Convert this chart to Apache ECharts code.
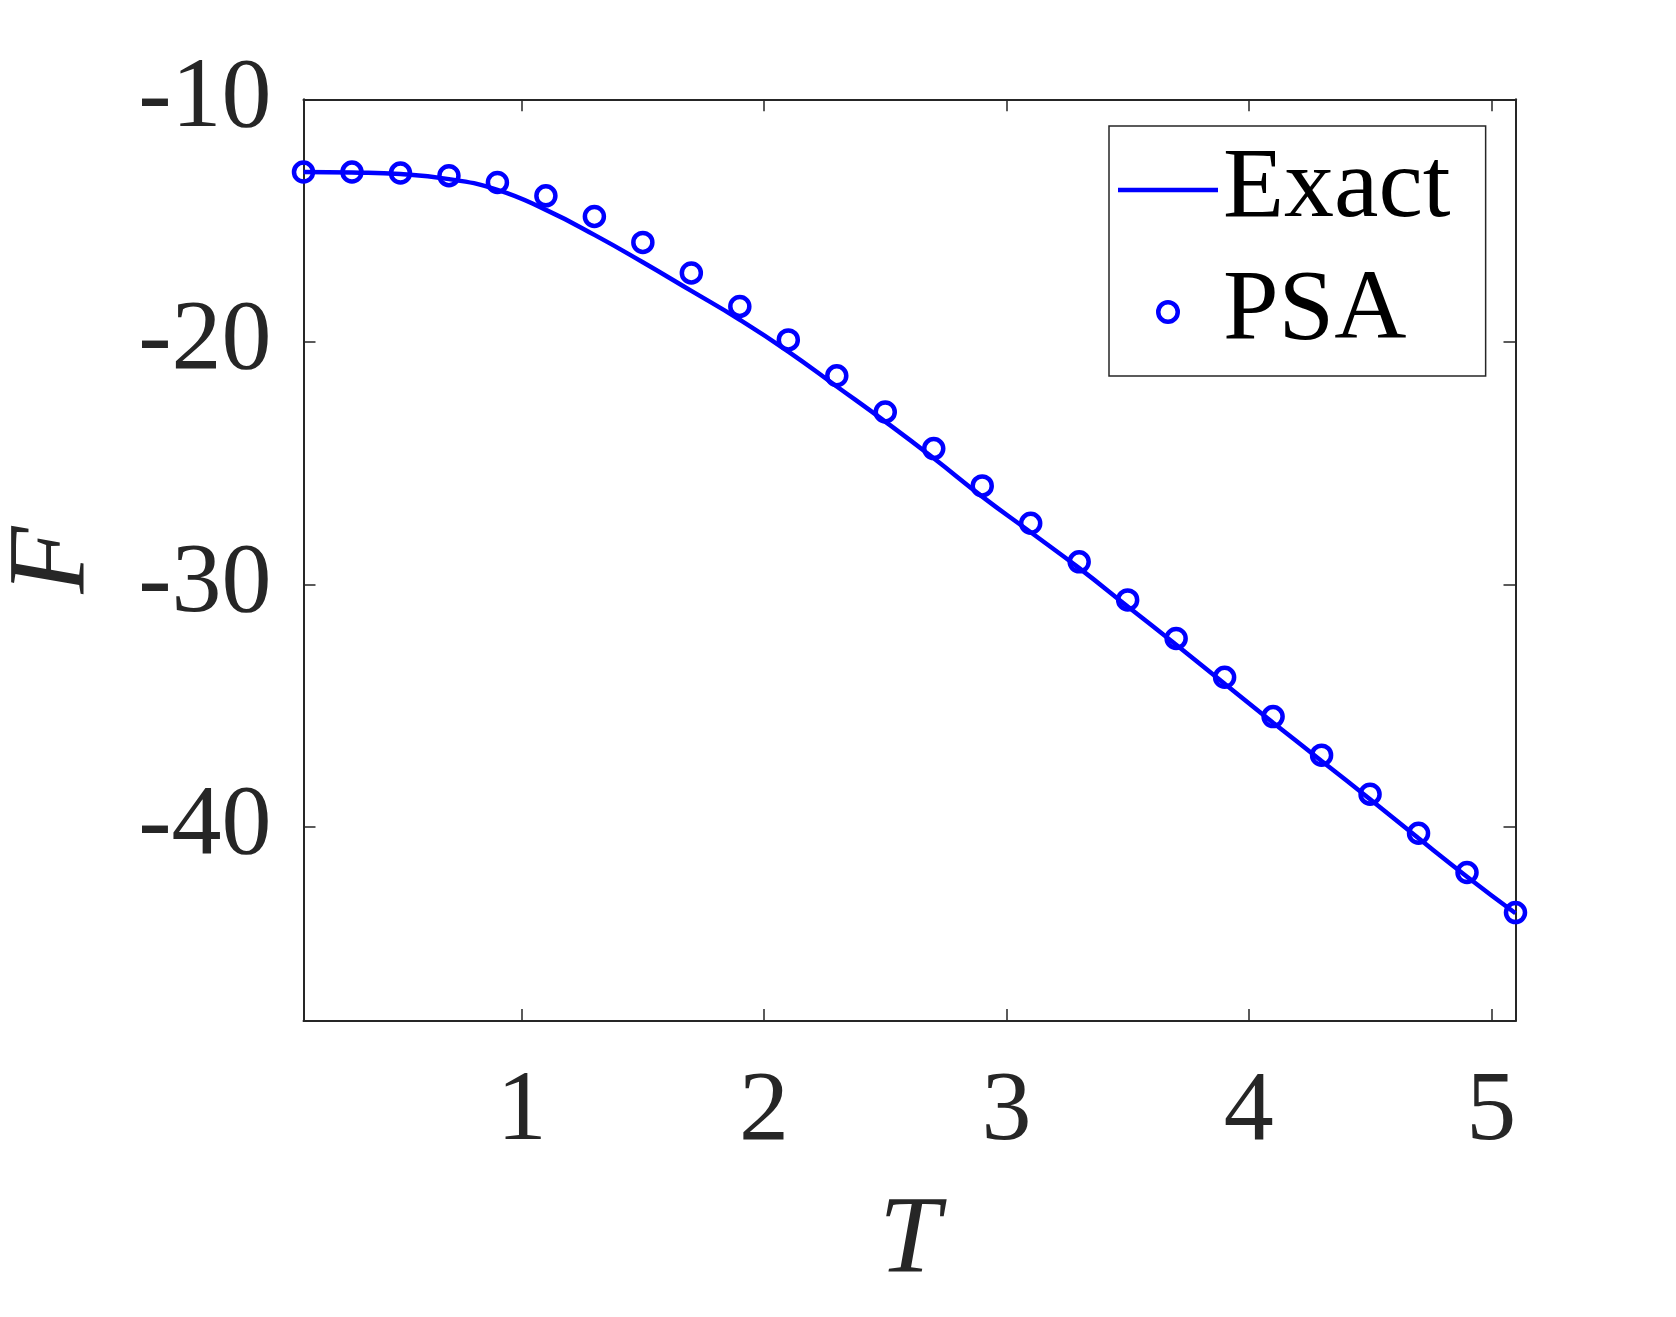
<!DOCTYPE html>
<html>
<head>
<meta charset="utf-8">
<title>F vs T</title>
<script src="https://cdn.jsdelivr.net/npm/echarts@6/dist/echarts.min.js"></script>
<style>
  html, body { margin: 0; padding: 0; background: #fff; }
  #chart { width: 1676px; height: 1317px; }
</style>
</head>
<body>
<div id="chart"></div>
<script>
/*  数据  */
var tValues = [0.1, 0.3, 0.5, 0.7, 0.9, 1.1, 1.3, 1.5, 1.7, 1.9, 2.1, 2.3, 2.5,
  2.7, 2.9, 3.1, 3.3, 3.5, 3.7, 3.9, 4.1, 4.3, 4.5, 4.7, 4.9, 5.1];
// 精确解 (Exact)
var exactValues = [-13.00, -13.02, -13.08, -13.29, -13.73, -14.56, -15.59, -16.72,
  -17.90, -19.09, -20.40, -21.84, -23.29, -24.80, -26.38, -27.85, -29.33, -30.91,
  -32.49, -34.10, -35.70, -37.28, -38.86, -40.47, -42.05, -43.56];
// PSA 近似
var psaValues = [-13.00, -13.00, -13.04, -13.15, -13.43, -13.98, -14.83, -15.90,
  -17.16, -18.54, -19.92, -21.40, -22.89, -24.40, -25.94, -27.48, -29.07, -30.64,
  -32.23, -33.83, -35.45, -37.04, -38.65, -40.26, -41.88, -43.53];
var xTicks = [1, 2, 3, 4, 5];
var yTicks = [-40, -30, -20, -10];
var xRange = [0.1, 5.1];
var yRange = [-48, -10];

var FONT = 'Liberation Serif';
var AXIS_COLOR = '#262626';
var BLUE = '#0000ff';

function pairs(xs, ys) {
  return xs.map(function (x, i) { return [x, ys[i]]; });
}

var chart = echarts.init(document.getElementById('chart'));

/*  坐标轴通用样式 */
function axisBase(pos, showLabel, ticks, range) {
  return {
    type: 'value',
    position: pos,
    min: range[0],
    max: range[1],
    splitLine: { show: false },
    axisLine: { show: true, onZero: false, lineStyle: { color: AXIS_COLOR, width: 2 } },
    axisTick: {
      show: true, inside: true, length: 12, customValues: ticks,
      lineStyle: { color: AXIS_COLOR, width: 1.5 }
    },
    axisLabel: {
      show: showLabel, customValues: ticks,
      fontFamily: FONT, fontSize: 100, color: AXIS_COLOR,
      margin: (pos === 'bottom' ? 42 : 32)
    }
  };
}

var xBottom = axisBase('bottom', true, xTicks, xRange);
xBottom.name = 'T';
xBottom.nameLocation = 'middle';
xBottom.nameGap = 167;
xBottom.nameTextStyle = { fontFamily: FONT, fontStyle: 'italic', fontSize: 110, color: AXIS_COLOR };

var yLeft = axisBase('left', true, yTicks, yRange);
yLeft.name = 'F';
yLeft.nameLocation = 'middle';
yLeft.nameGap = 194;
yLeft.nameTextStyle = { fontFamily: FONT, fontStyle: 'italic', fontSize: 110, color: AXIS_COLOR };

var option = {
  animation: false,
  backgroundColor: '#fff',
  grid: {
    left: 303.5, top: 99.3, width: 1212, height: 921.7,
    containLabel: false, outerBoundsMode: 'none'
  },
  xAxis: [xBottom, axisBase('top', false, xTicks, xRange)],
  yAxis: [yLeft, axisBase('right', false, yTicks, yRange)],
  legend: {
    orient: 'vertical',
    left: 1109,
    top: 126,
    padding: [5, 35, 5, 9],
    itemWidth: 100,
    itemHeight: 24,
    itemGap: 4,
    itemTextGap: 10,
    borderColor: AXIS_COLOR,
    borderWidth: 1.5,
    backgroundColor: '#fff',
    textStyle: { fontFamily: FONT, fontSize: 100, lineHeight: 100, color: '#000', padding: [0, 0, 18, 0] },
    data: [
      // 图例中的线段，不带圆点
      { name: 'Exact', icon: 'path://M0,0 L100,0 L100,4.5 L0,4.5 Z', itemStyle: { color: BLUE } },
      // 空心圆环
      {
        name: 'PSA',
        icon: 'path://M0,12 A12,12 0 1,1 24,12 A12,12 0 1,1 0,12 Z M4.5,12 A7.5,7.5 0 1,0 19.5,12 A7.5,7.5 0 1,0 4.5,12 Z',
        itemStyle: { color: BLUE, borderWidth: 0 }
      }
    ]
  },
  series: [
    {
      name: 'Exact',
      type: 'line',
      data: pairs(tValues, exactValues),
      showSymbol: false,
      symbol: 'none',
      smooth: true,
      lineStyle: { color: BLUE, width: 4.5 },
      itemStyle: { color: BLUE },
      z: 2
    },
    {
      name: 'PSA',
      type: 'scatter',
      data: pairs(tValues, psaValues),
      symbol: 'circle',
      symbolSize: 19,
      clip: false,
      itemStyle: { color: 'rgba(0,0,0,0)', borderColor: BLUE, borderWidth: 4.5, opacity: 1 },
      z: 3
    }
  ]
};

chart.setOption(option);
</script>
</body>
</html>
